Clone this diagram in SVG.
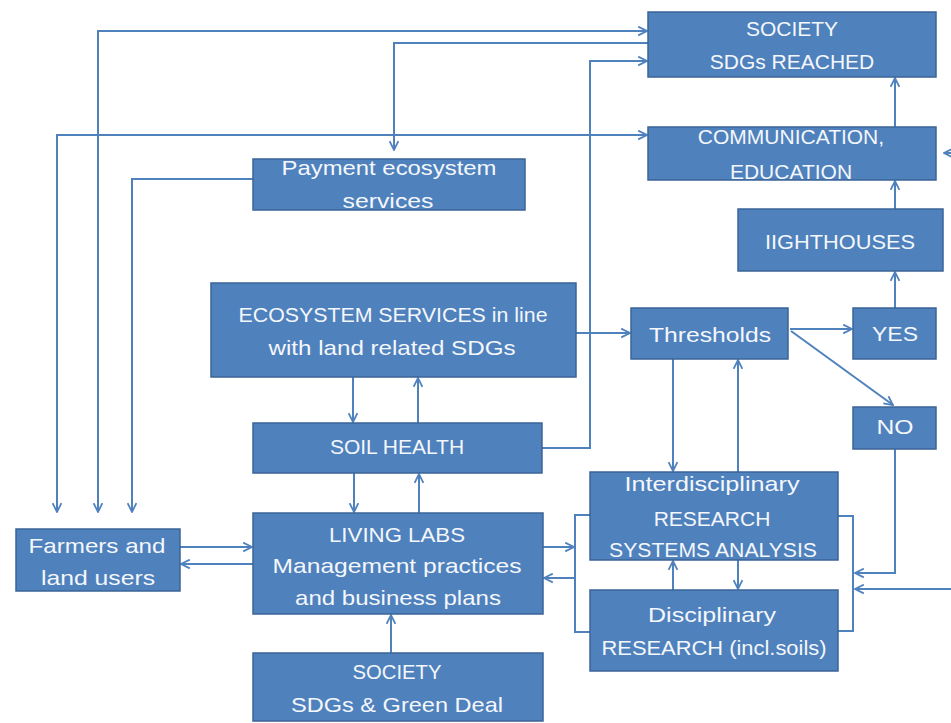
<svg xmlns="http://www.w3.org/2000/svg" width="951" height="723" viewBox="0 0 951 723">
<style>
.box{fill:#4F81BD;stroke:#3A6498;stroke-width:1.5}
.t{font-family:"Liberation Sans",Arial,sans-serif;font-size:21px;fill:#F4F7FB;text-anchor:middle}
.c{fill:none;stroke:#4F81BD;stroke-width:2}
.a{marker-end:url(#ah)}
.b{marker-start:url(#ah);marker-end:url(#ah)}
</style>
<defs>
<marker id="ah" viewBox="0 0 10 10" refX="9" refY="5" markerWidth="11" markerHeight="11" markerUnits="userSpaceOnUse" orient="auto-start-reverse">
<path d="M1,1 L9,5 L1,9" fill="none" stroke="#4F81BD" stroke-width="1.6"/>
</marker>
</defs>
<rect width="951" height="723" fill="#FFFFFF"/>
<g id="connectors">
<path class="c b" d="M98,512 V31 H647"/>
<path class="c a" d="M648,43 H394 V150"/>
<path class="c b" d="M57,512 V135 H647"/>
<path class="c a" d="M253,179 H132 V512"/>
<path class="c a" d="M542,448 H590 V61 H647"/>
<path class="c a" d="M576,333 H630"/>
<path class="c a" d="M790,329 H852"/>
<path class="c a" d="M791,331 L893,405"/>
<path class="c a" d="M895,308 V272"/>
<path class="c a" d="M895,209 V181"/>
<path class="c a" d="M895,127 V78"/>
<path class="c a" d="M955,153 H944"/>
<path class="c a" d="M673,359 V471"/>
<path class="c a" d="M738,472 V360"/>
<path class="c a" d="M895,449 V573 H855"/>
<path class="c a" d="M955,589 H855"/>
<path class="c" d="M838,516 H853 V631 H838"/>
<path class="c" d="M590,515 H575 V632 H590"/>
<path class="c a" d="M543,547 H574"/>
<path class="c a" d="M575,578 H544"/>
<path class="c a" d="M673,590 V561"/>
<path class="c a" d="M738,560 V589"/>
<path class="c a" d="M353,377 V422"/>
<path class="c a" d="M418,423 V378"/>
<path class="c a" d="M354,473 V512"/>
<path class="c a" d="M419,513 V474"/>
<path class="c a" d="M391,653 V615"/>
<path class="c a" d="M180,547 H252"/>
<path class="c a" d="M253,564 H181"/>
</g>
<g id="society-reached">
<rect class="box" x="648" y="12" width="288" height="65"/>
<text class="t" x="792" y="36">SOCIETY</text>
<text class="t" x="792" y="69">SDGs REACHED</text>
</g>
<g id="communication">
<rect class="box" x="648" y="127" width="288" height="53"/>
<text class="t" x="791" y="144">COMMUNICATION,</text>
<text class="t" x="791" y="179">EDUCATION</text>
</g>
<g id="lighthouses">
<rect class="box" x="738" y="209" width="205" height="62"/>
<text class="t" x="840" y="249" textLength="150" lengthAdjust="spacingAndGlyphs">IIGHTHOUSES</text>
</g>
<g id="payment">
<rect class="box" x="253" y="159" width="272" height="51"/>
<text class="t" x="389" y="175" textLength="215" lengthAdjust="spacingAndGlyphs">Payment ecosystem</text>
<text class="t" x="388" y="208" textLength="91" lengthAdjust="spacingAndGlyphs">services</text>
</g>
<g id="ecosystem-services">
<rect class="box" x="211" y="283" width="365" height="94"/>
<text class="t" x="393" y="322" textLength="309" lengthAdjust="spacingAndGlyphs">ECOSYSTEM SERVICES in line</text>
<text class="t" x="392" y="355" textLength="247" lengthAdjust="spacingAndGlyphs">with land related SDGs</text>
</g>
<g id="thresholds">
<rect class="box" x="631" y="308" width="157" height="51"/>
<text class="t" x="710" y="342" textLength="122" lengthAdjust="spacingAndGlyphs">Thresholds</text>
</g>
<g id="yes">
<rect class="box" x="853" y="308" width="83" height="51"/>
<text class="t" x="895" y="341" textLength="46" lengthAdjust="spacingAndGlyphs">YES</text>
</g>
<g id="no">
<rect class="box" x="853" y="407" width="83" height="42"/>
<text class="t" x="895" y="434" textLength="37" lengthAdjust="spacingAndGlyphs">NO</text>
</g>
<g id="soil-health">
<rect class="box" x="253" y="423" width="289" height="50"/>
<text class="t" x="397" y="454">SOIL HEALTH</text>
</g>
<g id="farmers">
<rect class="box" x="16" y="529" width="164" height="62"/>
<text class="t" x="97" y="553" textLength="137" lengthAdjust="spacingAndGlyphs">Farmers and</text>
<text class="t" x="98" y="585" textLength="114" lengthAdjust="spacingAndGlyphs">land users</text>
</g>
<g id="living-labs">
<rect class="box" x="253" y="513" width="290" height="101"/>
<text class="t" x="397" y="542" textLength="136" lengthAdjust="spacingAndGlyphs">LIVING LABS</text>
<text class="t" x="397" y="573" textLength="249" lengthAdjust="spacingAndGlyphs">Management practices</text>
<text class="t" x="398" y="605" textLength="206" lengthAdjust="spacingAndGlyphs">and business plans</text>
</g>
<g id="society-green-deal">
<rect class="box" x="253" y="653" width="290" height="68"/>
<text class="t" x="397" y="679" textLength="89" lengthAdjust="spacingAndGlyphs">SOCIETY</text>
<text class="t" x="397" y="712" textLength="212" lengthAdjust="spacingAndGlyphs">SDGs &amp; Green Deal</text>
</g>
<g id="interdisciplinary">
<rect class="box" x="590" y="472" width="248" height="88"/>
<text class="t" x="712" y="491" textLength="175" lengthAdjust="spacingAndGlyphs">Interdisciplinary</text>
<text class="t" x="712" y="526">RESEARCH</text>
<text class="t" x="713" y="557" textLength="208" lengthAdjust="spacingAndGlyphs">SYSTEMS ANALYSIS</text>
</g>
<g id="disciplinary">
<rect class="box" x="590" y="590" width="248" height="81"/>
<text class="t" x="712" y="622" textLength="128" lengthAdjust="spacingAndGlyphs">Disciplinary</text>
<text class="t" x="714" y="655" textLength="225" lengthAdjust="spacingAndGlyphs">RESEARCH (incl.soils)</text>
</g>
</svg>
